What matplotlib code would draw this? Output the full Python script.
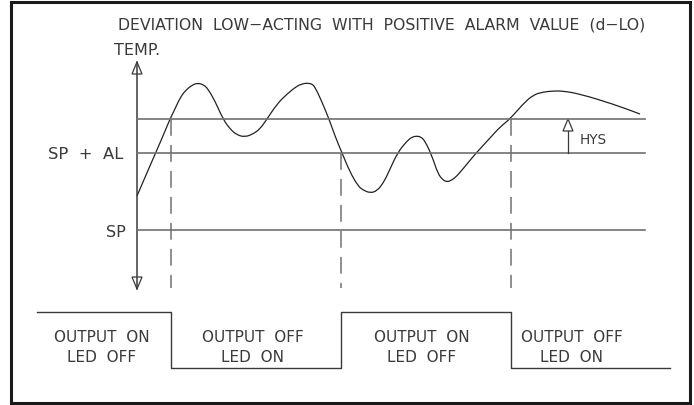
import matplotlib
matplotlib.use("Agg")
import matplotlib.pyplot as plt
from matplotlib.patches import Polygon, Rectangle, PathPatch
from matplotlib.path import Path

# drawing is in pixel units of the 694x406 picture (y grows downwards)
titre = "DEVIATION  LOW\u2212ACTING  WITH  POSITIVE  ALARM  VALUE  (d\u2212LO)"

# temperature curve
courbeX = [137, 146, 156, 163, 170, 174, 180, 185, 192, 198, 204, 208, 215, 223, 230, 237, 245,
           253, 260, 267, 277, 287, 297, 302, 307, 312, 315, 322, 329, 335, 342, 350, 358, 363,
           370, 377, 384, 390, 398, 407, 412, 417, 421, 425, 432, 438, 443, 447, 452, 457, 467,
           477, 490, 500, 510, 523, 533, 543, 553, 563, 580, 613, 640]
courbeY = [197, 176, 153, 137, 120, 112, 99, 92, 86, 84, 86, 90, 102, 120, 130, 136, 138,
           135, 130, 120, 105, 95, 87, 85, 84, 85, 88, 103, 120, 137, 154, 173, 187, 191,
           194, 192, 183, 170, 153, 142, 138, 137, 138, 142, 157, 175, 181, 183, 181, 177, 165,
           153, 139, 128, 120, 105, 96, 93, 92, 92, 95, 105, 115]

# levels
niveauHYS = 120
niveauSPAL = 154
niveauSP = 231

# switching instants and output state of each zone (1 = output on)
commutX = [171, 341, 511]
departDebut = [120, 154, 120]
etats = [1, 0, 1, 0]
lignes1 = ["OUTPUT  ON", "OUTPUT  OFF", "OUTPUT  ON", "OUTPUT  OFF"]
lignes2 = ["LED  OFF", "LED  ON", "LED  OFF", "LED  ON"]
etiquettesX = [102, 253, 422, 572]

xAxe = 137
xDebut = 37
xFin = 670
xFinNiveaux = 645
yHaut = 313
yBas = 369

encre = "#3a3a3a"
gris = "#707070"

fig = plt.figure(figsize=(6.94, 4.06), dpi=100)
ax = fig.add_axes([0, 0, 1, 1])
ax.set_xlim(0, 694)
ax.set_ylim(406, 0)
ax.axis("off")

police = dict(family="DejaVu Sans", color=encre)

# cadre
ax.add_patch(Rectangle((11, 3), 679.5, 401, fill=False, lw=2.2, ec="#1a1a1a"))

ax.text(118, 30, titre, fontsize=11.3, va="baseline", ha="left", **police)
ax.text(114, 55, "TEMP.", fontsize=11.5, va="baseline", ha="left", **police)

# axe des temperatures avec fleches ouvertes
ax.plot([xAxe, xAxe], [63, 290], color=encre, lw=1.1)
ax.add_patch(Polygon([[xAxe, 63], [xAxe - 5, 75], [xAxe + 5, 75]], closed=True, fc="white", ec=encre, lw=0.9))
ax.add_patch(Polygon([[xAxe, 290], [xAxe - 5, 278], [xAxe + 5, 278]], closed=True, fc="white", ec=encre, lw=0.9))

for y in [niveauHYS, niveauSPAL, niveauSP]:
    ax.plot([xAxe, xFinNiveaux], [y, y], color=gris, lw=1.2)

ax.text(123, 159, "SP  +  AL", fontsize=11.8, va="baseline", ha="right", **police)
ax.text(126, 237, "SP", fontsize=11.5, va="baseline", ha="right", **police)

# hysteresis
ax.plot([568, 568], [niveauSPAL, niveauHYS + 12], color=encre, lw=0.9)
ax.add_patch(Polygon([[568, niveauHYS], [563, niveauHYS + 12], [573, niveauHYS + 12]], closed=True, fc="white", ec=encre, lw=0.9))
ax.text(580, 144, "HYS", fontsize=9.8, va="baseline", ha="left", **police)

# courbe lissee (bezier quadratique par les points lus)
pts = list(zip(courbeX, courbeY))
sommets = [pts[0], ((pts[0][0] + pts[1][0]) / 2, (pts[0][1] + pts[1][1]) / 2)]
codes = [Path.MOVETO, Path.LINETO]
for i in range(1, len(pts) - 1):
    milieu = ((pts[i][0] + pts[i + 1][0]) / 2, (pts[i][1] + pts[i + 1][1]) / 2)
    sommets += [pts[i], milieu]
    codes += [Path.CURVE3, Path.CURVE3]
sommets.append(pts[-1])
codes.append(Path.LINETO)
ax.add_patch(PathPatch(Path(sommets, codes), fill=False, ec="#222222", lw=0.9))

for x, y0 in zip(commutX, departDebut):
    ax.plot([x, x], [y0, 289], color=gris, lw=1.1, dashes=(11, 6))

# signal de sortie
bornes = [xDebut] + commutX + [xFin]
sx, sy = [], []
for i, e in enumerate(etats):
    y = yHaut if e == 1 else yBas
    sx += [bornes[i], bornes[i + 1]]
    sy += [y, y]
ax.plot(sx, sy, color=encre, lw=1.0)

for x, l1, l2 in zip(etiquettesX, lignes1, lignes2):
    ax.text(x, 342, l1, fontsize=11, va="baseline", ha="center", **police)
    ax.text(x, 362, l2, fontsize=11, va="baseline", ha="center", **police)

fig.savefig("out.png", dpi=100)
